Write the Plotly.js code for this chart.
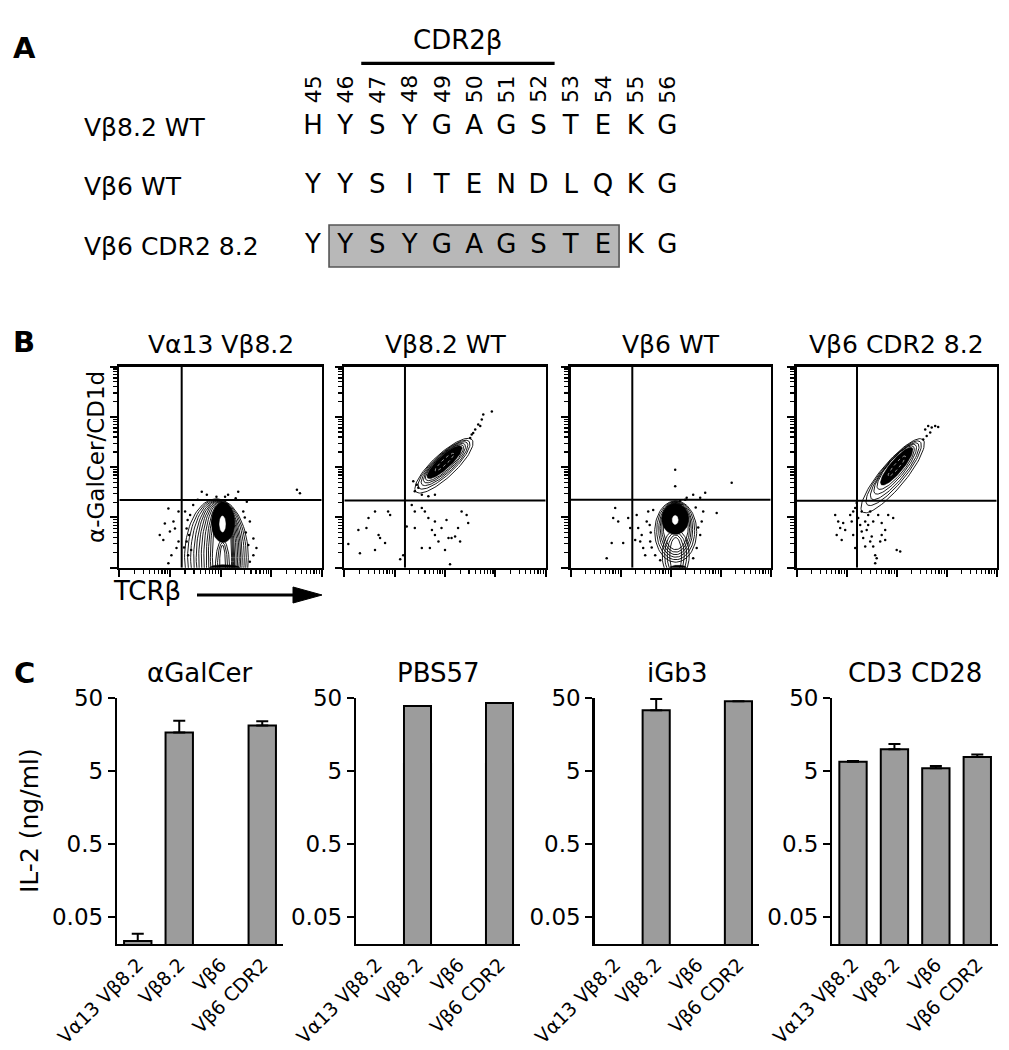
<!DOCTYPE html>
<html><head><meta charset="utf-8">
<script src="https://cdn.plot.ly/plotly-3.0.1.min.js"></script>
<style>html,body{margin:0;padding:0;background:#fff}#chart{width:1009px;height:1050px}</style>
</head><body><div id="chart"></div>
<script>
// ================= DATA =================
// Panel A: sequence alignment
const residuePositions = [45,46,47,48,49,50,51,52,53,54,55,56];
const seqVb82WT  = ['H','Y','S','Y','G','A','G','S','T','E','K','G'];
const seqVb6WT   = ['Y','Y','S','I','T','E','N','D','L','Q','K','G'];
const seqVb6CDR2 = ['Y','Y','S','Y','G','A','G','S','T','E','K','G'];
const rowLabels  = ['V\u03b28.2 WT','V\u03b26 WT','V\u03b26 CDR2 8.2'];
const cdr2Span   = [47, 52];
const graftedSpan = [46, 54];

// Panel B: flow cytometry (log10 fluorescence, decades 0-4)
const flowTitles = ['V\u03b113 V\u03b28.2','V\u03b28.2 WT','V\u03b26 WT','V\u03b26 CDR2 8.2'];
const gateTCRb = [1.233, 1.205, 1.232, 1.206];
const gateTet  = [1.347, 1.337, 1.350, 1.334];
// contour levels [centerX, centerY, semiAxis1, semiAxis2]
const contoursVa13 = [[1.92,0.2,0.63,1.17],[1.93,0.2,0.58,1.16],[1.94,0.2,0.53,1.15],[1.95,0.2,0.48,1.14],[1.96,0.2,0.44,1.13],[1.97,0.2,0.40,1.12],[1.98,0.2,0.36,1.11],[1.99,0.2,0.32,1.10],[2.00,0.2,0.28,1.09],[2.01,0.2,0.25,1.08],[2.02,0.2,0.22,1.07],[2.03,0.2,0.19,1.06],[2.04,0.0,0.14,0.55],[2.04,0.0,0.10,0.50],[2.04,0.0,0.06,0.45]];
const coreVa13 = [2.05,0.90,0.23,0.40];
const holeVa13 = [2.04,0.87,0.06,0.16];
const pileVa13 = [2.08,0.00,0.30,0.06];
const rotVa13 = 0;
const contoursVb82 = [[1.98,2.03,0.76,0.23],[1.98,2.05,0.68,0.20],[1.99,2.07,0.61,0.18],[1.99,2.08,0.55,0.16],[1.99,2.09,0.50,0.145]];
const coreVb82 = [1.99,2.10,0.46,0.13];
const rotVb82 = 43;
const contoursVb6 = [[2.10,0.72,0.42,0.61],[2.10,0.74,0.38,0.58],[2.10,0.76,0.34,0.55],[2.10,0.78,0.31,0.52],[2.10,0.80,0.28,0.49],[2.10,0.82,0.25,0.46],[2.10,0.25,0.27,0.50],[2.10,0.25,0.22,0.45],[2.10,0.25,0.17,0.40],[2.10,0.25,0.12,0.35]];
const coreVb6 = [2.09,0.97,0.27,0.31];
const holeVb6 = [2.09,0.95,0.06,0.09];
const pileVb6 = [2.15,0.00,0.17,0.05];
const rotVb6 = 0;
const contoursVb6CDR2 = [[1.92,1.83,0.94,0.25],[1.94,1.88,0.82,0.22],[1.96,1.92,0.72,0.195],[1.97,1.96,0.63,0.175],[1.98,1.99,0.55,0.155]];
const coreVb6CDR2 = [2.00,2.02,0.48,0.13];
const rotVb6CDR2 = 50;
// individual events
const dotsVa13X = [0.80,0.87,0.97,1.00,1.07,1.10,1.13,1.17,0.97,1.03,1.17,0.90,1.63,1.73,2.15,2.35,3.51,3.57,2.09,2.58,2.65,2.71,2.65,1.30,1.33,1.33,2.58,1.46,1.36,2.45,2.52,1.92,1.35,1.40,1.38,1.42,2.50,2.55,2.48,1.55,2.30,1.28];
const dotsVa13Y = [0.65,0.55,1.18,0.72,0.92,0.78,0.39,1.12,0.09,0.25,0.52,0.88,1.51,1.45,1.45,1.51,1.55,1.48,1.41,0.92,0.58,0.39,0.25,1.12,0.78,0.52,0.12,1.25,0.25,1.12,1.31,1.41,0.95,1.05,0.65,0.35,0.70,0.45,1.00,1.35,1.38,0.40];
const dotsVb82X = [0.48,0.61,0.44,0.28,0.68,0.71,0.87,0.91,0.61,0.31,0.08,0.81,1.11,1.17,1.34,1.40,1.54,1.60,1.24,1.40,1.67,1.80,1.74,1.93,2.03,1.87,2.07,2.13,2.20,2.30,1.54,1.70,2.00,2.10,2.43,2.46,2.33,1.80,2.26,2.93,2.73,2.66,2.60,2.53,2.50,2.76,2.70,2.56,1.47,1.40,1.54,1.67,1.80,1.37,1.44];
const dotsVb82Y = [0.99,1.12,0.79,0.75,0.65,0.59,1.12,1.05,0.35,0.29,0.47,0.49,0.17,0.25,1.25,1.12,1.19,1.12,0.82,0.79,0.99,0.92,0.75,0.79,0.95,0.52,0.59,0.59,0.62,0.52,0.39,0.39,0.35,0.07,1.05,0.89,1.12,0.65,0.79,3.11,2.95,2.85,2.75,2.65,2.58,3.05,2.82,2.68,1.59,1.52,1.45,1.42,1.45,1.72,1.65];
const dotsVb6X = [0.89,0.85,0.82,1.05,0.72,0.95,1.15,1.19,1.32,1.35,1.39,1.45,1.49,1.29,1.42,2.09,2.09,3.22,2.92,2.45,2.69,2.32,2.59,2.65,2.62,2.59,2.52,2.45,1.55,1.52,1.59,1.69,1.79,2.29,2.19,1.60,1.62,1.58,1.65,2.55,2.50];
const dotsVb6Y = [1.19,0.99,0.49,0.49,0.19,0.92,0.99,0.79,1.05,0.79,0.52,0.39,0.25,0.55,0.65,1.95,1.62,1.69,1.09,1.45,1.49,1.39,1.39,1.12,0.92,0.65,0.39,0.19,1.12,0.92,0.52,0.25,0.15,1.35,1.33,0.70,0.40,0.85,1.15,0.80,1.20];
const dotsVb6CDR2X = [0.77,0.83,0.87,0.80,0.93,0.97,0.90,1.07,1.10,1.13,1.17,1.20,1.23,1.27,1.30,1.33,1.37,1.40,1.43,1.47,1.50,1.53,1.57,1.57,1.60,1.67,1.70,1.77,1.83,1.93,2.00,2.07,1.63,1.70,1.77,1.37,1.17,1.13,1.53,1.47,1.43,1.30,2.57,2.63,2.70,2.77,2.83,2.67,2.60,2.53];
const dotsVb6CDR2Y = [1.05,0.92,0.79,0.65,0.89,0.75,0.55,1.05,0.92,1.12,1.19,1.29,0.99,0.85,0.72,0.59,0.92,0.75,1.05,0.52,0.62,0.42,0.25,0.09,0.19,0.52,0.65,0.75,1.05,0.99,0.35,0.32,1.05,0.89,0.55,0.42,0.39,0.65,0.92,1.12,0.85,1.12,2.75,2.82,2.79,2.82,2.80,2.69,2.62,2.55];

// Panel C: IL-2 (ng/ml)
const categories = ['V\u03b113 V\u03b28.2','V\u03b28.2','V\u03b26','V\u03b26 CDR2'];
const stimuli = ['\u03b1GalCer','PBS57','iGb3','CD3 CD28'];
const il2AlphaGalCer    = [0.023, 16.7, null, 20.8];
const il2AlphaGalCerTop = [0.029, 24.1, null, 23.7];
const il2PBS57          = [null, 38.4, null, 42.3];
const il2PBS57Top       = [null, null, null, null];
const il2iGb3           = [null, 33.6, null, 44.6];
const il2iGb3Top        = [null, 48.0, null, null];
const il2CD3CD28        = [6.64, 9.83, 5.4, 7.7];
const il2CD3CD28Top     = [6.8, 11.6, 5.8, 8.3];
const il2Ticks = [0.05, 0.5, 5, 50];
const il2TickText = ['0.05','0.5','5','50'];

// ================= BUILD =================
const W = 1009, H = 1050;
const px = v => v / W;
const py = v => 1 - v / H;
const FONT = 'DejaVu Sans, Arial, sans-serif';
const ax = i => (i === 1 ? '' : String(i));

function ellipse(c, rotDeg) {
  const [cx, cy, a, b] = c;
  const th = rotDeg * Math.PI / 180;
  const xs = [], ys = [];
  for (let k = 0; k <= 90; k++) {
    const t = 2 * Math.PI * k / 90;
    xs.push(cx + a * Math.cos(t) * Math.cos(th) - b * Math.sin(t) * Math.sin(th));
    ys.push(cy + a * Math.cos(t) * Math.sin(th) + b * Math.sin(t) * Math.cos(th));
  }
  return {xs, ys};
}

const traces = [];
const flowPanels = [
  {contours: contoursVa13, rot: rotVa13, core: coreVa13, hole: holeVa13, pile: pileVa13, dx: dotsVa13X, dy: dotsVa13Y, streaks: false},
  {contours: contoursVb82, rot: rotVb82, core: coreVb82, hole: null, pile: null, dx: dotsVb82X, dy: dotsVb82Y, streaks: true},
  {contours: contoursVb6, rot: rotVb6, core: coreVb6, hole: holeVb6, pile: pileVb6, dx: dotsVb6X, dy: dotsVb6Y, streaks: false},
  {contours: contoursVb6CDR2, rot: rotVb6CDR2, core: coreVb6CDR2, hole: null, pile: null, dx: dotsVb6CDR2X, dy: dotsVb6CDR2Y, streaks: true}
];

flowPanels.forEach((p, idx) => {
  const n = idx + 1;
  const xa = 'x' + ax(n), ya = 'y' + ax(n);
  const addFill = (c, color) => {
    const e = ellipse(c, p.rot);
    traces.push({type:'scatter', mode:'lines', x:e.xs, y:e.ys, xaxis:xa, yaxis:ya, fill:'toself',
      fillcolor:color, line:{color:color, width:0.5}, hoverinfo:'skip'});
  };
  addFill(p.core, '#000');
  if (p.pile) addFill(p.pile, '#000');
  p.contours.forEach(c => {
    const e = ellipse(c, p.rot);
    traces.push({type:'scatter', mode:'lines', x:e.xs, y:e.ys, xaxis:xa, yaxis:ya,
      line:{color:'#000', width:0.9}, hoverinfo:'skip'});
  });
  if (p.hole) addFill(p.hole, '#fff');
  if (p.streaks) {
    const inner = [p.core[0], p.core[1], p.core[2]*0.55, p.core[3]*0.4];
    const ei = ellipse(inner, p.rot);
    traces.push({type:'scatter', mode:'lines', x:ei.xs, y:ei.ys, xaxis:xa, yaxis:ya,
      line:{color:'#fff', width:0.6, dash:'dot'}, hoverinfo:'skip'});
  }
  traces.push({type:'scatter', mode:'markers', x:p.dx, y:p.dy, xaxis:xa, yaxis:ya,
    marker:{color:'#000', size:2.5}, hoverinfo:'skip'});
});

// Bars (panel C)
const barSets = [
  [il2AlphaGalCer, il2AlphaGalCerTop],
  [il2PBS57, il2PBS57Top],
  [il2iGb3, il2iGb3Top],
  [il2CD3CD28, il2CD3CD28Top]
];
barSets.forEach((s, idx) => {
  const n = idx + 5;
  const vals = s[0], tops = s[1];
  traces.push({
    type:'bar', x:categories, y:vals, xaxis:'x'+n, yaxis:'y'+n, width:0.66,
    marker:{color:'#9c9c9c', line:{color:'#000', width:2}},
    error_y:{type:'data', symmetric:false,
      array: vals.map((v,i) => (v != null && tops[i] != null) ? tops[i] - v : 0),
      arrayminus: vals.map(() => 0),
      color:'#000', thickness:2, width:6, visible:true},
    hoverinfo:'skip'
  });
});

// Panel A residues as a text trace on a hidden axis
const seqRows = [seqVb82WT, seqVb6WT, seqVb6CDR2];
const resX = [], resY = [], resT = [];
seqRows.forEach((row, r) => row.forEach((aa, i) => { resX.push(residuePositions[i]); resY.push(r); resT.push(aa); }));
traces.push({type:'scatter', mode:'text', x:resX, y:resY, text:resT, xaxis:'x9', yaxis:'y9',
  textposition:'middle center', textfont:{family:FONT, size:26, color:'#000'}, cliponaxis:false, hoverinfo:'skip'});

// ================= LAYOUT =================
const layout = {
  width:W, height:H, margin:{l:0,r:0,t:0,b:0},
  paper_bgcolor:'#fff', plot_bgcolor:'rgba(0,0,0,0)',
  showlegend:false, font:{family:FONT, color:'#000'},
  annotations:[], shapes:[]
};

const flowL = [119.3, 344.3, 570.7, 796.7], flowR = [321.7, 545.7, 770.7, 996.7];
const flowTop = 366.7, flowBot = 567.7;
const majorVals = [0,1,2,3,4];
const minorVals = [];
for (let d = 0; d < 4; d++) for (let k = 2; k <= 9; k++) minorVals.push(d + Math.log10(k));

for (let i = 0; i < 4; i++) {
  const n = i + 1;
  const base = {
    range:[0,4], showgrid:false, zeroline:false, showline:true, mirror:true,
    linecolor:'#000', linewidth:2.5, ticks:'outside', tickmode:'array', tickvals:majorVals,
    ticklen:7, tickwidth:2, tickcolor:'#000', showticklabels:false, fixedrange:true,
    minor:{ticks:'outside', tickmode:'array', tickvals:minorVals, ticklen:4, tickwidth:1.3, tickcolor:'#000', showgrid:false}
  };
  layout['xaxis' + ax(n)] = Object.assign({}, base, {domain:[px(flowL[i]), px(flowR[i])], anchor:'y' + ax(n)});
  layout['yaxis' + ax(n)] = Object.assign({}, base, {domain:[py(flowBot), py(flowTop)], anchor:'x' + ax(n)});
  layout.shapes.push({type:'line', xref:'x'+ax(n), yref:'y'+ax(n), x0:gateTCRb[i], x1:gateTCRb[i], y0:0, y1:4, line:{color:'#000', width:2}});
  layout.shapes.push({type:'line', xref:'x'+ax(n), yref:'y'+ax(n), x0:0, x1:4, y0:gateTet[i], y1:gateTet[i], line:{color:'#000', width:2}});
  layout.annotations.push({xref:'paper', yref:'paper', x:px((flowL[i]+flowR[i])/2), y:py(344), text:flowTitles[i],
    showarrow:false, xanchor:'center', yanchor:'middle', font:{size:25, family:FONT}});
}

const barL = [117, 356, 594.5, 832.3], barR = [283, 520, 759, 998];
const barTop = 697.7, barBot = 944;
for (let i = 0; i < 4; i++) {
  const n = i + 5;
  layout['xaxis' + n] = {domain:[px(barL[i]), px(barR[i])], anchor:'y'+n, type:'category', range:[-0.5,3.5],
    showline:true, linecolor:'#000', linewidth:2.2, ticks:'', tickangle:-45, showgrid:false, zeroline:false,
    tickfont:{size:19, family:FONT}, fixedrange:true};
  layout['yaxis' + n] = {domain:[py(barBot), py(barTop)], anchor:'x'+n, type:'log',
    range:[Math.log10(0.021), Math.log10(50)], tickmode:'array', tickvals:il2Ticks, ticktext:il2TickText,
    ticks:'outside', ticklen:7, tickwidth:2, tickcolor:'#000', showline:true, linecolor:'#000', linewidth:2.2,
    showgrid:false, zeroline:false, tickfont:{size:23, family:FONT}, fixedrange:true};
  layout.annotations.push({xref:'paper', yref:'paper', x:px((barL[i]+barR[i])/2), y:py(673), text:stimuli[i],
    showarrow:false, xanchor:'center', yanchor:'middle', font:{size:26, family:FONT}});
}

// hidden axes for panel A
layout.xaxis9 = {domain:[0,1], range:[35.29, 66.6], visible:false, anchor:'y9', fixedrange:true};
layout.yaxis9 = {domain:[0,1], range:[15.58, -2.157], visible:false, anchor:'x9', fixedrange:true};

residuePositions.forEach(p => layout.annotations.push({xref:'x9', yref:'y9', x:p, y:-0.649, text:String(p),
  textangle:-90, showarrow:false, xanchor:'center', yanchor:'middle', font:{size:22, family:FONT}}));
rowLabels.forEach((t, r) => layout.annotations.push({xref:'paper', yref:'y9', x:px(82), y:r, text:t,
  showarrow:false, xanchor:'left', yanchor:'middle', font:{size:25, family:FONT}}));
layout.annotations.push({xref:'x9', yref:'y9', x:(cdr2Span[0]+cdr2Span[1])/2, y:-1.476, text:'CDR2\u03b2',
  showarrow:false, xanchor:'center', yanchor:'middle', font:{size:26, family:FONT}});
layout.shapes.push({type:'line', xref:'x9', yref:'y9', x0:cdr2Span[0]-0.5, x1:cdr2Span[1]+0.5, y0:-1.088, y1:-1.088,
  line:{color:'#000', width:3.3}});
layout.shapes.push({type:'rect', xref:'x9', yref:'y9', x0:graftedSpan[0]-0.5, x1:graftedSpan[1]+0.5, y0:1.643, y1:2.352,
  fillcolor:'#b8b8b8', line:{color:'#555', width:1.6}, layer:'below'});

[['A',48],['B',342],['C',673]].forEach(([t,y]) => layout.annotations.push({xref:'paper', yref:'paper', x:px(24), y:py(y),
  text:'<b>'+t+'</b>', showarrow:false, xanchor:'center', yanchor:'middle', font:{size:29, family:FONT}}));

layout.annotations.push({xref:'paper', yref:'paper', x:px(96), y:py(457), text:'\u03b1-GalCer/CD1d', textangle:-90,
  showarrow:false, xanchor:'center', yanchor:'middle', font:{size:23, family:FONT}});
layout.annotations.push({xref:'paper', yref:'paper', x:px(111), y:py(591), text:'TCR\u03b2',
  showarrow:false, xanchor:'left', yanchor:'middle', font:{size:26, family:FONT}});
layout.shapes.push({type:'line', xref:'paper', yref:'paper', x0:px(197), x1:px(300), y0:py(595), y1:py(595), line:{color:'#000', width:3}});
layout.shapes.push({type:'path', xref:'paper', yref:'paper',
  path:`M ${px(293)} ${py(587)} L ${px(322)} ${py(595)} L ${px(293)} ${py(603)} Z`, fillcolor:'#000', line:{color:'#000', width:1}});

layout.annotations.push({xref:'paper', yref:'paper', x:px(29), y:py(821), text:'IL-2 (ng/ml)', textangle:-90,
  showarrow:false, xanchor:'center', yanchor:'middle', font:{size:25, family:FONT}});

Plotly.newPlot('chart', traces, layout, {staticPlot:true, displayModeBar:false});
</script>
</body></html>
